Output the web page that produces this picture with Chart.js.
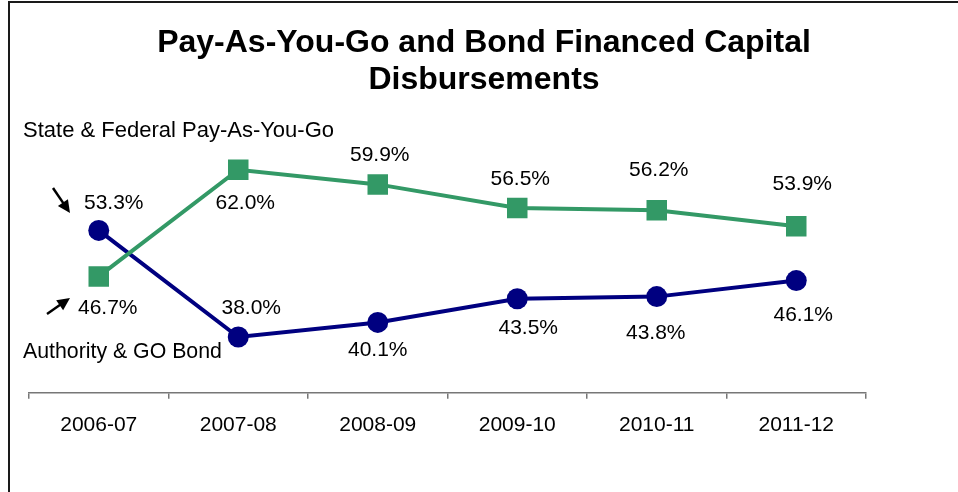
<!DOCTYPE html>
<html>
<head>
<meta charset="utf-8">
<script src="https://cdn.jsdelivr.net/npm/chart.js@4"></script>
<style>
    html, body { margin: 0; padding: 0; background: #fff; }
    #wrap { width: 958px; height: 492px; position: relative; }
</style>
</head>
<body>
<div id="wrap"><canvas id="capital-chart" width="958" height="492"></canvas></div>
<script>
const fiscalYears = ['2006-07', '2007-08', '2008-09', '2009-10', '2010-11', '2011-12'];
const payGoShare = [46.7, 62.0, 59.9, 56.5, 56.2, 53.9];
const bondShare = [53.3, 38.0, 40.1, 43.5, 43.8, 46.1];
const titleLines = ['Pay-As-You-Go and Bond Financed Capital', 'Disbursements'];
const payGoName = 'State & Federal Pay-As-You-Go';
const bondName = 'Authority & GO Bond';

const FONT = 'Arial, "Liberation Sans", sans-serif';

// where each value label sits relative to its point
const payGoLabelShift = [[9, 32], [7, 33], [2, -29], [3, -29], [2, -40], [6, -42]];
const bondLabelShift = [[15, -27], [13, -29], [0, 28], [11, 29], [-1, 37], [7, 35]];

function arrow(ctx, x1, y1, x2, y2) {
    const a = Math.atan2(y2 - y1, x2 - x1);
    const head = 14;
    ctx.beginPath();
    ctx.moveTo(x1, y1);
    ctx.lineTo(x2 - Math.cos(a) * head * 0.7, y2 - Math.sin(a) * head * 0.7);
    ctx.stroke();
    ctx.beginPath();
    ctx.moveTo(x2, y2);
    ctx.lineTo(x2 - head * Math.cos(a - 0.45), y2 - head * Math.sin(a - 0.45));
    ctx.lineTo(x2 - head * Math.cos(a + 0.45), y2 - head * Math.sin(a + 0.45));
    ctx.closePath();
    ctx.fill();
}

const decorations = {
    id: 'decorations',
    afterDraw(chart) {
        const ctx = chart.ctx;
        ctx.save();

        // frame on top and left edges
        ctx.strokeStyle = '#1a1a1a';
        ctx.lineWidth = 2;
        ctx.beginPath();
        ctx.moveTo(9, 492);
        ctx.lineTo(9, 2);
        ctx.lineTo(958, 2);
        ctx.stroke();

        ctx.fillStyle = '#000';
        ctx.textAlign = 'center';
        ctx.textBaseline = 'alphabetic';
        ctx.font = 'bold 32px ' + FONT;
        ctx.fillText(titleLines[0], 484, 52);
        ctx.fillText(titleLines[1], 484, 89);

        ctx.textAlign = 'left';
        ctx.textBaseline = 'middle';
        ctx.font = '22px ' + FONT;
        ctx.fillText(payGoName, 23, 131);
        ctx.font = '21.3px ' + FONT;
        ctx.fillText(bondName, 23, 352);

        // value labels
        ctx.font = '21px ' + FONT;
        ctx.textAlign = 'center';
        const shifts = [payGoLabelShift, bondLabelShift];
        chart.data.datasets.forEach((ds, i) => {
            chart.getDatasetMeta(i).data.forEach((pt, j) => {
                const [dx, dy] = shifts[i][j];
                ctx.fillText(ds.data[j].toFixed(1) + '%', pt.x + dx, pt.y + dy);
            });
        });

        ctx.strokeStyle = '#000';
        ctx.lineWidth = 2.5;
        arrow(ctx, 53, 188, 70, 213);
        arrow(ctx, 47, 314, 70, 298);
        ctx.restore();
    }
};

new Chart(document.getElementById('capital-chart'), {
    type: 'line',
    data: {
        labels: fiscalYears,
        datasets: [{
            label: payGoName,
            data: payGoShare,
            borderColor: '#339966',
            backgroundColor: '#339966',
            borderWidth: 4,
            pointStyle: 'rect',
            pointRadius: 14.5,
            pointBorderWidth: 0,
            tension: 0
        }, {
            label: bondName,
            data: bondShare,
            borderColor: '#000080',
            backgroundColor: '#000080',
            borderWidth: 4,
            pointStyle: 'circle',
            pointRadius: 10.5,
            pointBorderWidth: 0,
            tension: 0
        }]
    },
    options: {
        responsive: false,
        animation: false,
        layout: {
            padding: { left: 29, right: 92, top: 114, bottom: 40 }
        },
        plugins: {
            legend: { display: false },
            tooltip: { enabled: false },
            title: { display: false }
        },
        scales: {
            x: {
                offset: true,
                grid: {
                    offset: true,
                    drawOnChartArea: false,
                    drawTicks: true,
                    tickLength: 6,
                    color: '#777',
                    lineWidth: 1.5
                },
                border: { color: '#777', width: 1.5 },
                ticks: {
                    color: '#000',
                    padding: 14,
                    font: { family: FONT, size: 21 }
                }
            },
            y: {
                display: false,
                min: 30,
                max: 70
            }
        }
    },
    plugins: [decorations]
});
</script>
</body>
</html>
